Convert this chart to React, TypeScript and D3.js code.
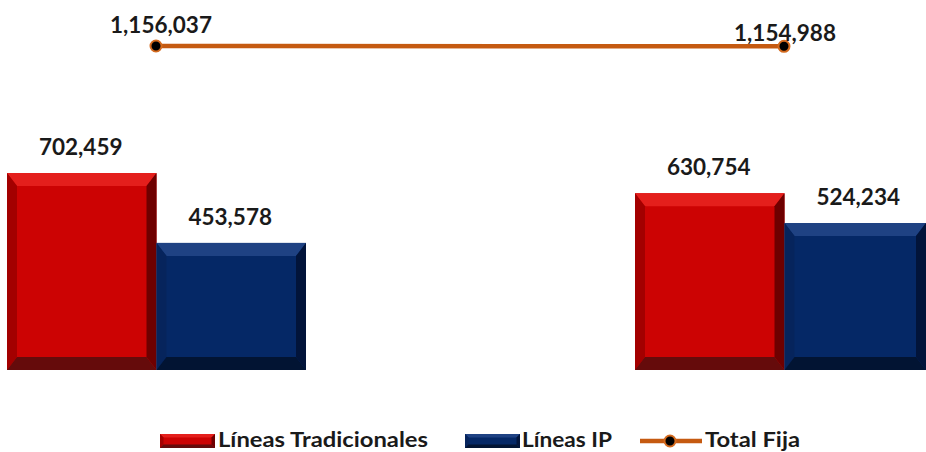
import * as React from 'react';
import * as d3 from 'd3';

const categories = ['Periodo 1', 'Periodo 2'];
const seriesNames = ['Líneas Tradicionales', 'Líneas IP'];
const tradicionales = [702459, 630754];
const lineasIP = [453578, 524234];
const totalFija = [1156037, 1154988];
const lineName = 'Total Fija';

const W = 926;
const H = 452;
const FONT = 'Lato, Calibri, "Noto Sans", sans-serif';

const palette = [
  { main: '#cc0303', top: '#e41f1c', left: '#a30000', right: '#6e0000', bottom: '#650b0b' },
  { main: '#052866', top: '#1f4283', left: '#06245c', right: '#02143a', bottom: '#021433' },
];

type Shade = typeof palette[number];

function BevelBar({ x, y, w, h, c }: { x: number; y: number; w: number; h: number; c: Shade }) {
  const s = Math.min(10, w / 4, h / 4);
  const t = Math.min(13, h / 4);
  const x2 = x + w, y2 = y + h;
  return (
    <g>
      <rect x={x} y={y} width={w} height={h} fill={c.main} />
      <polygon points={`${x},${y} ${x2},${y} ${x2 - s},${y + t} ${x + s},${y + t}`} fill={c.top} />
      <polygon points={`${x},${y} ${x + s},${y + t} ${x + s},${y2 - t} ${x},${y2}`} fill={c.left} />
      <polygon points={`${x2},${y} ${x2},${y2} ${x2 - s},${y2 - t} ${x2 - s},${y + t}`} fill={c.right} />
      <polygon points={`${x},${y2} ${x + s},${y2 - t} ${x2 - s},${y2 - t} ${x2},${y2}`} fill={c.bottom} />
    </g>
  );
}

export default function App() {
  const baseY = 370;
  const y = d3.scaleLinear().domain([0, 1156037]).range([baseY, 46]);
  const x = d3.scalePoint<string>().domain(categories).range([156, 784]);
  const sub = d3.scaleBand<string>().domain(seriesNames).range([-149, 150]).padding(0);
  const series = [tradicionales, lineasIP];
  const fmt = d3.format(',');

  const line = d3.line<number>()
    .x((_, i) => x(categories[i])!)
    .y(d => y(d));

  const labelOffsets = [[5, -13], [1, -5]];

  return (
    <svg width={W} height={H} style={{ position: 'absolute', left: 0, top: 0, background: '#fff' }}>
      {categories.map((cat, ci) => (
        <g key={cat}>
          {series.map((vals, si) => {
            const bx = x(cat)! + sub(seriesNames[si])!;
            const bw = Math.min(sub.bandwidth(), W - bx);
            const top = y(vals[ci]);
            return (
              <g key={si}>
                <BevelBar x={bx} y={top} w={bw} h={baseY - top} c={palette[si]} />
                <text x={x(cat)! + sub(seriesNames[si])! + sub.bandwidth() / 2 - 1} y={top - 18}
                  textAnchor="middle" fontFamily={FONT} fontWeight="bold" fontSize={22.5} fill="#1a1a1a">
                  {fmt(vals[ci])}
                </text>
              </g>
            );
          })}
        </g>
      ))}

      <path d={line(totalFija)!} fill="none" stroke="#c55a11" strokeWidth={4.5} />
      {totalFija.map((v, i) => (
        <g key={i}>
          <circle cx={x(categories[i])!} cy={y(v)} r={5.5} fill="#000" stroke="#d46a1e" strokeWidth={2} />
          <text x={x(categories[i])! + labelOffsets[i][0]} y={y(v) + labelOffsets[i][1]}
            textAnchor="middle" fontFamily={FONT} fontWeight="bold" fontSize={22.5} fill="#1a1a1a">
            {fmt(v)}
          </text>
        </g>
      ))}

      {/* legend */}
      <g fontFamily={FONT} fontWeight="bold" fontSize={21} fill="#1a1a1a">
        <BevelBar x={160} y={434} w={55} h={14} c={palette[0]} />
        <text x={218} y={447} textLength={210} lengthAdjust="spacingAndGlyphs">{seriesNames[0]}</text>
        <BevelBar x={465} y={434} w={55} h={14} c={palette[1]} />
        <text x={522} y={447} textLength={90} lengthAdjust="spacingAndGlyphs">{seriesNames[1]}</text>
        <line x1={640} x2={702} y1={441} y2={441} stroke="#c55a11" strokeWidth={4.5} />
        <circle cx={670} cy={441} r={5.5} fill="#000" stroke="#d46a1e" strokeWidth={2} />
        <text x={705} y={447} textLength={95} lengthAdjust="spacingAndGlyphs">{lineName}</text>
      </g>
    </svg>
  );
}
